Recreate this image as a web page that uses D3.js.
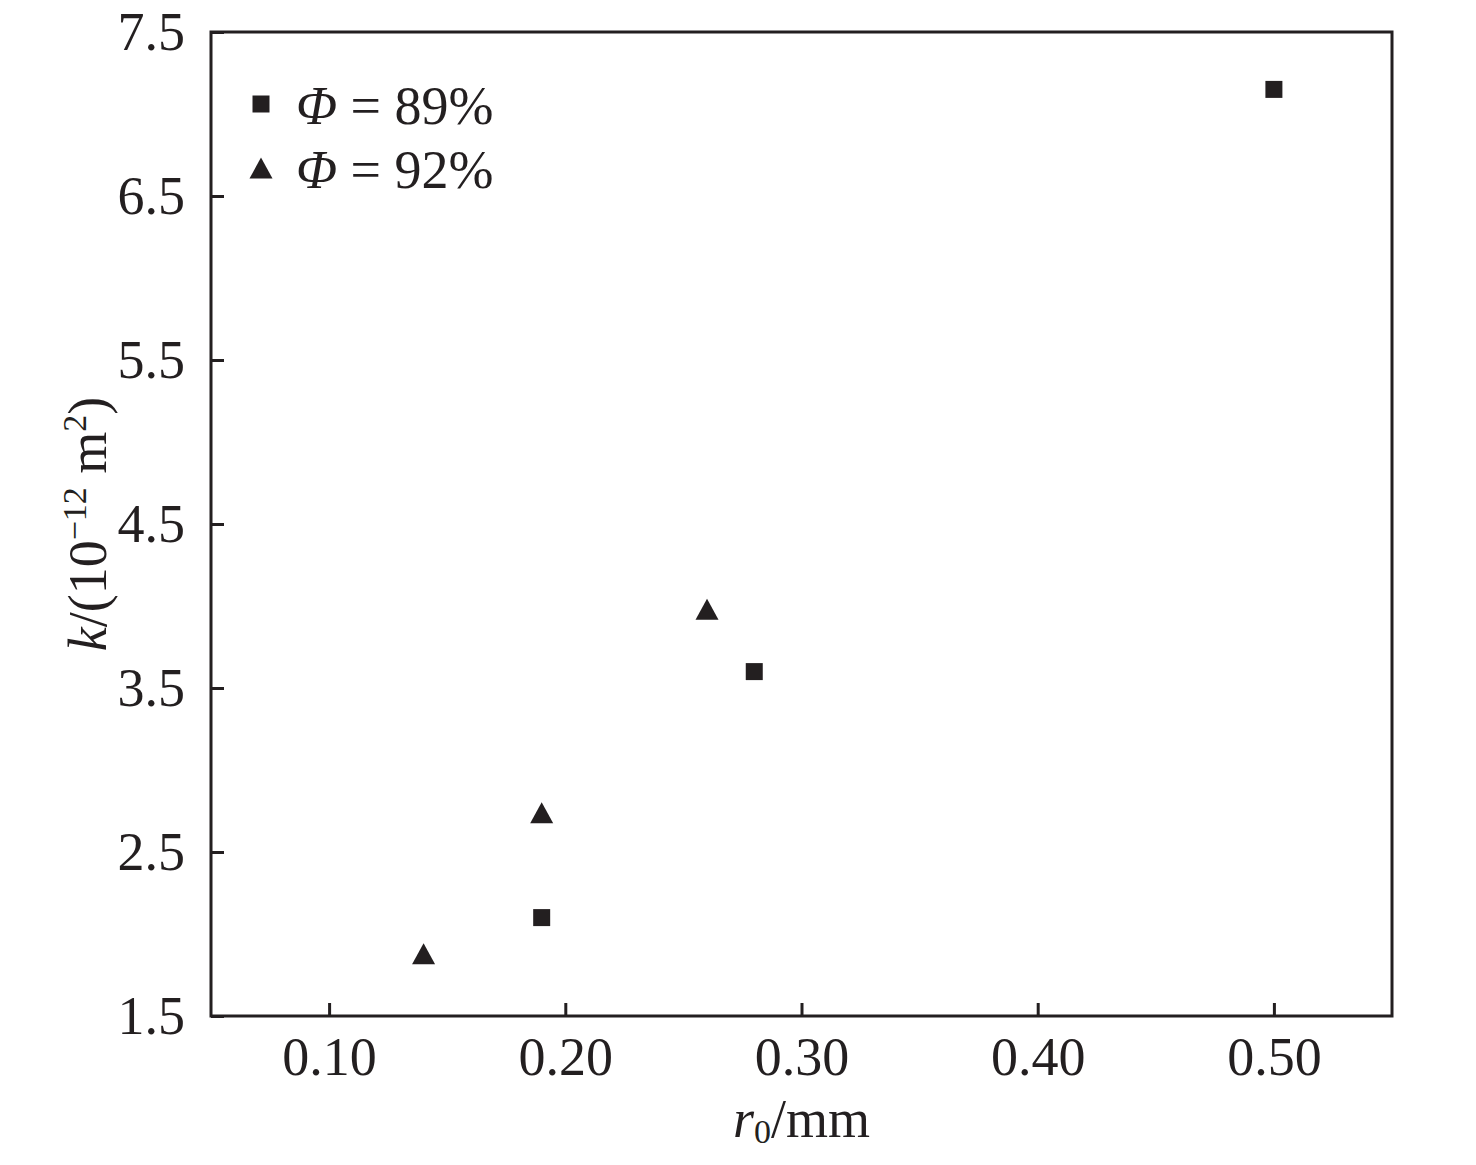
<!DOCTYPE html>
<html>
<head>
<meta charset="utf-8">
<script src="https://cdn.jsdelivr.net/npm/d3@7"></script>
<style>
  body { margin: 0; background: #fff; }
  text { font-family: "Liberation Serif", "Times New Roman", serif; fill: #231f20; }
</style>
</head>
<body>
<div id="chart"></div>
<script>
// data
var seriesLabels = ["89%", "92%"];
var r0_89 = [0.19, 0.28, 0.50];
var k_89  = [2.10, 3.60, 7.15];
var r0_92 = [0.14, 0.19, 0.26];
var k_92  = [1.88, 2.74, 3.98];
var xTicks = [0.10, 0.20, 0.30, 0.40, 0.50];
var yTicks = [1.5, 2.5, 3.5, 4.5, 5.5, 6.5, 7.5];

var width = 1476, height = 1165;
var margin = {top: 32, right: 84, bottom: 149, left: 211};
var w = width - margin.left - margin.right;
var h = height - margin.top - margin.bottom;
var ink = "#231f20";

var svg = d3.select("#chart").append("svg")
    .attr("width", width)
    .attr("height", height);

var g = svg.append("g")
    .attr("transform", "translate(" + margin.left + "," + margin.top + ")");

var x = d3.scaleLinear().domain([0.05, 0.55]).range([0, w]);
var y = d3.scaleLinear().domain([1.5, 7.5]).range([h, 0]);

// axes, ticks pointing inward
var xAxis = g.append("g")
    .attr("transform", "translate(0," + h + ")")
    .call(d3.axisBottom(x).tickValues(xTicks).tickFormat(d3.format(".2f"))
      .tickSizeInner(-13).tickSizeOuter(0).tickPadding(21));

var yAxis = g.append("g")
    .call(d3.axisLeft(y).tickValues(yTicks).tickFormat(d3.format(".1f"))
      .tickSizeInner(-13).tickSizeOuter(0).tickPadding(26));

[xAxis, yAxis].forEach(function(a) {
  a.select(".domain").remove();
  a.selectAll(".tick line").attr("stroke", ink).attr("stroke-width", 3);
  a.selectAll(".tick text")
      .attr("fill", ink)
      .style("font-family", "'Liberation Serif', 'Times New Roman', serif")
      .style("font-size", "54px");
});

// frame
g.append("rect")
    .attr("width", w)
    .attr("height", h)
    .attr("fill", "none")
    .attr("stroke", ink)
    .attr("stroke-width", 3);

// markers
var squarePath = "M-8.5,-8.5H8.5V8.5H-8.5Z";
var trianglePath = "M0,-10.5L11.5,10.5L-11.5,10.5Z";

g.append("g").selectAll("path")
    .data(d3.zip(r0_89, k_89))
  .enter().append("path")
    .attr("d", squarePath)
    .attr("fill", ink)
    .attr("transform", function(d) { return "translate(" + x(d[0]) + "," + y(d[1]) + ")"; });

g.append("g").selectAll("path")
    .data(d3.zip(r0_92, k_92))
  .enter().append("path")
    .attr("d", trianglePath)
    .attr("fill", ink)
    .attr("transform", function(d) { return "translate(" + x(d[0]) + "," + y(d[1]) + ")"; });

// legend
var legend = svg.append("g").selectAll("g")
    .data(seriesLabels)
  .enter().append("g")
    .attr("transform", function(d, i) { return "translate(261," + (104 + i * 64) + ")"; });

legend.append("path")
    .attr("d", function(d, i) { return i === 0 ? squarePath : trianglePath; })
    .attr("fill", ink);

var lt = legend.append("text")
    .attr("x", 35)
    .attr("y", 20)
    .style("font-size", "54px");
lt.append("tspan").style("font-style", "italic").text("Φ");
lt.append("tspan").text(function(d) { return " = " + d; });

// x label
var xl = svg.append("text")
    .attr("x", margin.left + w / 2)
    .attr("y", 1137)
    .attr("text-anchor", "middle")
    .style("font-size", "54px");
xl.append("tspan").style("font-style", "italic").text("r");
xl.append("tspan").attr("dy", 6).style("font-size", "34px").text("0");
xl.append("tspan").attr("dy", -6).text("/mm");

// y label
var yl = svg.append("text")
    .attr("transform", "translate(106," + (margin.top + h / 2) + ") rotate(-90)")
    .attr("text-anchor", "middle")
    .style("font-size", "54px");
yl.append("tspan").style("font-style", "italic").text("k");
yl.append("tspan").text("/(10");
yl.append("tspan").attr("dy", -20).style("font-size", "34px").text("\u221212");
yl.append("tspan").attr("dy", 20).text(" m");
yl.append("tspan").attr("dy", -20).style("font-size", "34px").text("2");
yl.append("tspan").attr("dy", 20).text(")");
</script>
</body>
</html>
